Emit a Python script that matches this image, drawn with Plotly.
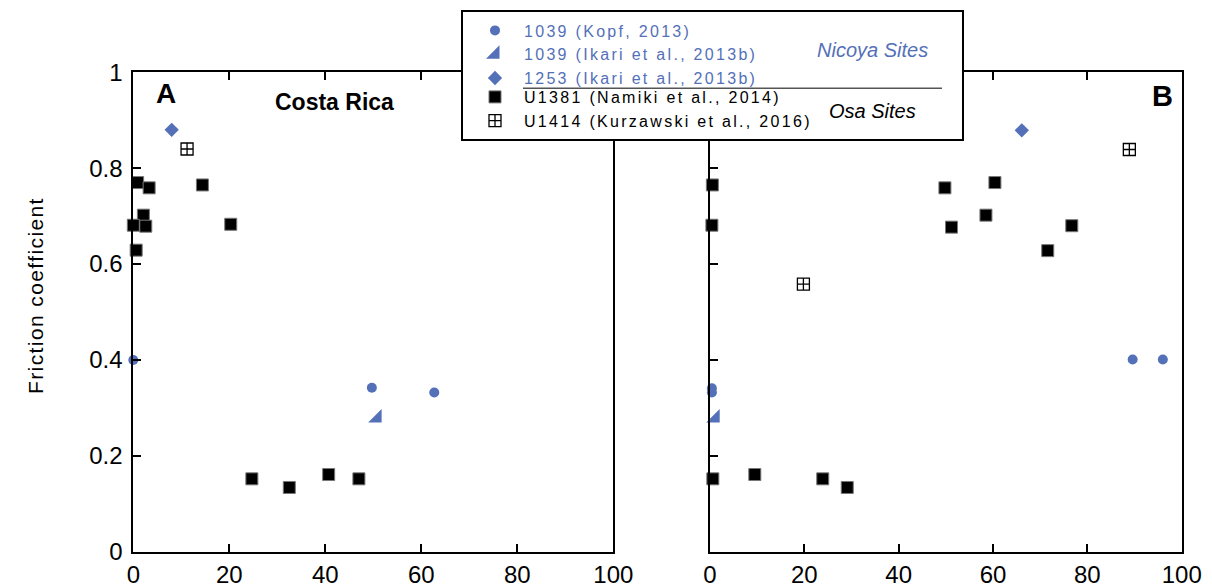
import plotly.graph_objects as go

# ---------------- data ----------------
# Panel A
kopf_a_x = [0.0, 49.7, 62.7]
kopf_a_y = [0.400, 0.342, 0.332]
ik1039_a_x = [50.8]
ik1039_a_y = [0.279]
ik1253_a_x = [8.0]
ik1253_a_y = [0.880]
namiki_a_x = [0.9, 3.3, 14.4, 2.1, 0.0, 2.6, 20.3, 0.6, 24.7, 32.5, 40.7, 47.0]
namiki_a_y = [0.770, 0.759, 0.765, 0.702, 0.681, 0.679, 0.683, 0.629, 0.152, 0.134, 0.161, 0.152]
kurz_a_x = [11.2]
kurz_a_y = [0.840]

# Panel B
kopf_b_x = [0.4, 0.4, 89.6, 96.0]
kopf_b_y = [0.341, 0.332, 0.401, 0.401]
ik1039_b_x = [1.1]
ik1039_b_y = [0.279]
ik1253_b_x = [66.1]
ik1253_b_y = [0.879]
namiki_b_x = [0.5, 0.4, 49.8, 60.4, 58.5, 51.2, 76.7, 71.6, 0.6, 9.5, 23.9, 29.1]
namiki_b_y = [0.765, 0.681, 0.759, 0.770, 0.702, 0.677, 0.680, 0.628, 0.152, 0.161, 0.152, 0.134]
kurz_b_x = [19.8, 88.9]
kurz_b_y = [0.558, 0.839]

x_ticks = [0, 20, 40, 60, 80, 100]
y_ticks = [0, 0.2, 0.4, 0.6, 0.8, 1.0]
y_tick_labels = ["0", "0.2", "0.4", "0.6", "0.8", "1"]

names = ["1039 (Kopf, 2013)", "1039 (Ikari et al., 2013b)", "1253 (Ikari et al., 2013b)",
         "U1381 (Namiki et al., 2014)", "U1414 (Kurzawski et al., 2016)"]

# ---------------- style ----------------
W, H = 1212, 588
OFF = 8  # page body margin
BLUE = "#5470B8"
FONT = "Liberation Sans, Arial, sans-serif"


def px(x):
    return (x - OFF) / W


def py(y):
    return 1 - (y - OFF) / H


def lname(txt, color):
    return f"<span style='letter-spacing:2.3px;color:{color}'>{txt}</span>"


styles = [
    dict(symbol="circle", size=10, color=BLUE),
    dict(symbol="triangle-se", size=15, color=BLUE),
    dict(symbol="diamond", size=11, color=BLUE),
    dict(symbol="square", size=12, color="black", line=dict(color="#777777", width=1)),
    dict(symbol="square-cross-open", size=12, color="black", line=dict(color="black", width=1.3)),
]
name_colors = [BLUE, BLUE, BLUE, "black", "black"]
legend_ids = ["legend", "legend", "legend", "legend2", "legend2"]

panel_a = [(kopf_a_x, kopf_a_y), (ik1039_a_x, ik1039_a_y), (ik1253_a_x, ik1253_a_y),
           (namiki_a_x, namiki_a_y), (kurz_a_x, kurz_a_y)]
panel_b = [(kopf_b_x, kopf_b_y), (ik1039_b_x, ik1039_b_y), (ik1253_b_x, ik1253_b_y),
           (namiki_b_x, namiki_b_y), (kurz_b_x, kurz_b_y)]

fig = go.Figure()
for i, ((xa, ya), (xb, yb)) in enumerate(zip(panel_a, panel_b)):
    fig.add_trace(go.Scatter(x=xa, y=ya, mode="markers", marker=styles[i],
                             name=lname(names[i], name_colors[i]), legendgroup=str(i),
                             legend=legend_ids[i],
                             xaxis="x", yaxis="y", cliponaxis=False))
    fig.add_trace(go.Scatter(x=xb, y=yb, mode="markers", marker=styles[i],
                             name=lname(names[i], name_colors[i]), legendgroup=str(i),
                             legend=legend_ids[i],
                             showlegend=False, xaxis="x2", yaxis="y2", cliponaxis=False))

yd = [py(551.7), py(72.3)]
common_x = dict(range=[0, 100], tickvals=x_ticks, ticks="inside", ticklen=8, tickwidth=2,
                tickcolor="black", showline=True, linewidth=2, linecolor="black",
                mirror="ticks", showgrid=False, zeroline=False, automargin=False,
                tickfont=dict(family=FONT, size=24, color="black"))
common_y = dict(range=[0, 1], tickvals=y_ticks, ticktext=y_tick_labels, ticks="inside",
                ticklen=8, tickwidth=2, tickcolor="black", showline=True, linewidth=2,
                linecolor="black", mirror=True, showgrid=False, zeroline=False,
                automargin=False, ticklabelstandoff=4,
                tickfont=dict(family=FONT, size=24, color="black"), domain=yd)

legend_common = dict(xanchor="left", yanchor="top", bgcolor="rgba(0,0,0,0)", borderwidth=0,
                     traceorder="normal", font=dict(family=FONT, size=16, color="black"),
                     itemwidth=48)


def note(text, x, y, size, color="black", angle=0):
    return dict(text=text, x=px(x), y=py(y), xref="paper", yref="paper",
                xanchor="center", yanchor="middle", showarrow=False, textangle=angle,
                font=dict(family=FONT, size=size, color=color))


fig.update_layout(
    width=W, height=H, margin=dict(l=0, r=0, t=0, b=0, autoexpand=False),
    paper_bgcolor="white", plot_bgcolor="white",
    xaxis=dict(common_x, domain=[px(133.3), px(613.3)], anchor="y"),
    yaxis=dict(common_y, anchor="x"),
    xaxis2=dict(common_x, domain=[px(710), px(1181.7)], anchor="y2"),
    yaxis2=dict(common_y, anchor="x2", showticklabels=False),
    showlegend=True,
    legend=dict(legend_common, x=px(466), y=py(13.5)),
    legend2=dict(legend_common, x=px(466), y=py(80)),
    shapes=[
        dict(type="rect", xref="paper", yref="paper", x0=px(462), x1=px(963),
             y0=py(140), y1=py(11), line=dict(color="black", width=2),
             fillcolor="white", layer="above"),
        dict(type="line", xref="paper", yref="paper", x0=px(523), x1=px(942),
             y0=py(88.3), y1=py(88.3), line=dict(color="#555555", width=1.5),
             layer="above"),
    ],
    annotations=[
        note("<i>Nicoya Sites</i>", 872.7, 50, 20, BLUE),
        note("<i>Osa Sites</i>", 872, 111, 20),
        note("<b>A</b>", 166, 93, 28),
        note("<b>B</b>", 1162, 95.5, 29),
        note("<b>Costa Rica</b>", 334, 101.7, 23),
        note("<span style='letter-spacing:1.4px'>Friction coefficient</span>", 35, 296, 21,
             angle=-90),
    ],
)

fig.write_html("out.html")
